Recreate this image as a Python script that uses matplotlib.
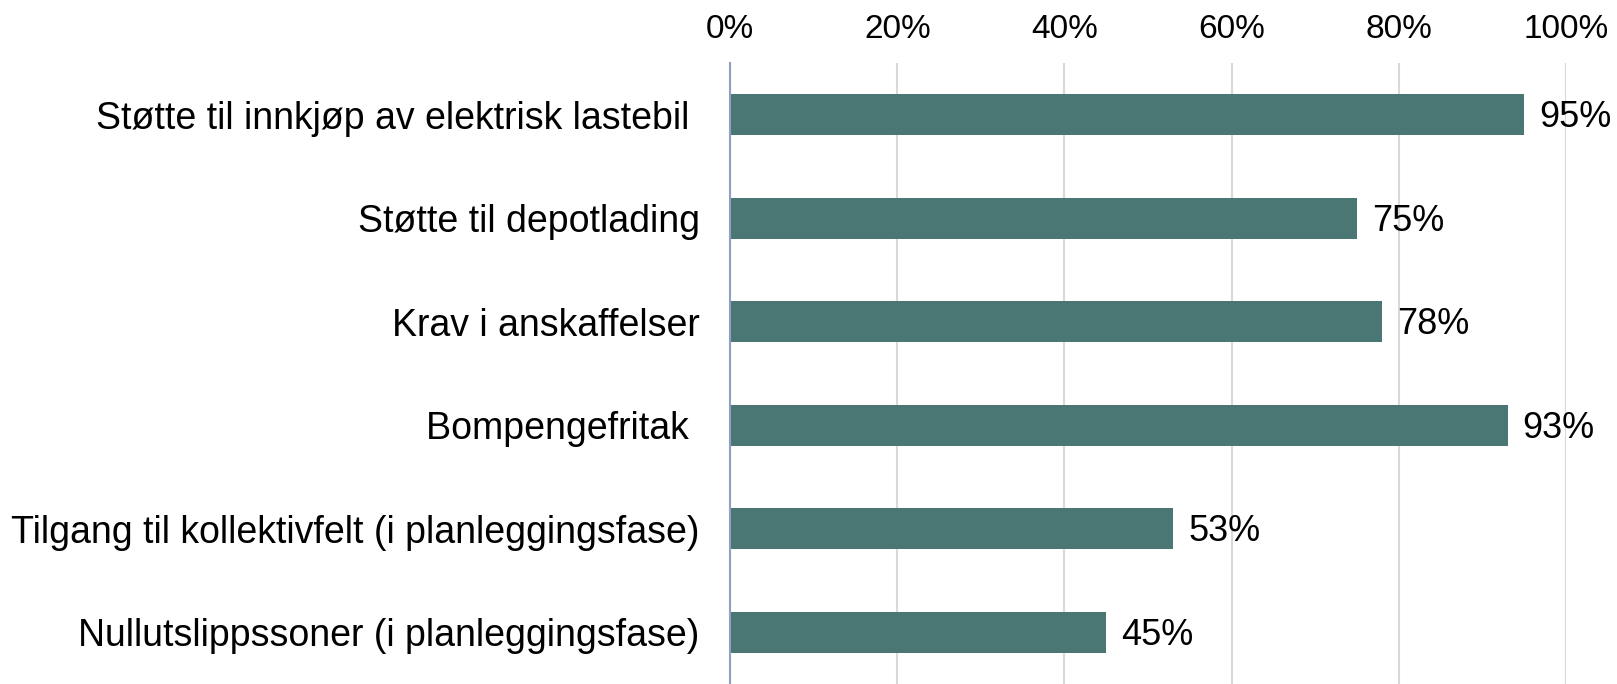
import matplotlib
matplotlib.use("Agg")
import matplotlib.pyplot as plt
from matplotlib.ticker import PercentFormatter

categories = [
    "Støtte til innkjøp av elektrisk lastebil ",
    "Støtte til depotlading",
    "Krav i anskaffelser",
    "Bompengefritak ",
    "Tilgang til kollektivfelt (i planleggingsfase)",
    "Nullutslippssoner (i planleggingsfase)",
]
values = [95, 75, 78, 93, 53, 45]
xticks = [0, 20, 40, 60, 80, 100]

plt.rcParams['font.family'] = ['Liberation Sans', 'DejaVu Sans']

fig = plt.figure(figsize=(16.17, 6.84), dpi=100)
ax = fig.add_axes([0.4515, 0.0, 0.9685 - 0.4515, 0.9079])

ypos = list(range(len(categories)))
ax.barh(ypos, values, height=0.4, color="#4A7673", zorder=3)
ax.set_ylim(len(categories) - 0.5, -0.5)
ax.set_xlim(0, 100)
ax.set_yticks(ypos)
ax.set_yticklabels(categories, fontsize=27)
ax.set_xticks(xticks)
ax.xaxis.set_major_formatter(PercentFormatter(decimals=0))
ax.xaxis.tick_top()
ax.tick_params(axis='x', labelsize=24, length=0, pad=13)
ax.tick_params(axis='y', length=0, pad=22)
ax.grid(axis='x', color="#D9D9D9", linewidth=1.5, zorder=0)
for s in ['top', 'right', 'bottom']:
    ax.spines[s].set_visible(False)
ax.spines['left'].set_color("#8FA0C4")
ax.spines['left'].set_linewidth(1.5)
ax.spines['left'].set_zorder(4)

for y, v in zip(ypos, values):
    ax.text(v + 1.8, y + 0.03, f"{v}%", va='center', ha='left', fontsize=26, clip_on=False)

fig.savefig("out.png", dpi=100)
